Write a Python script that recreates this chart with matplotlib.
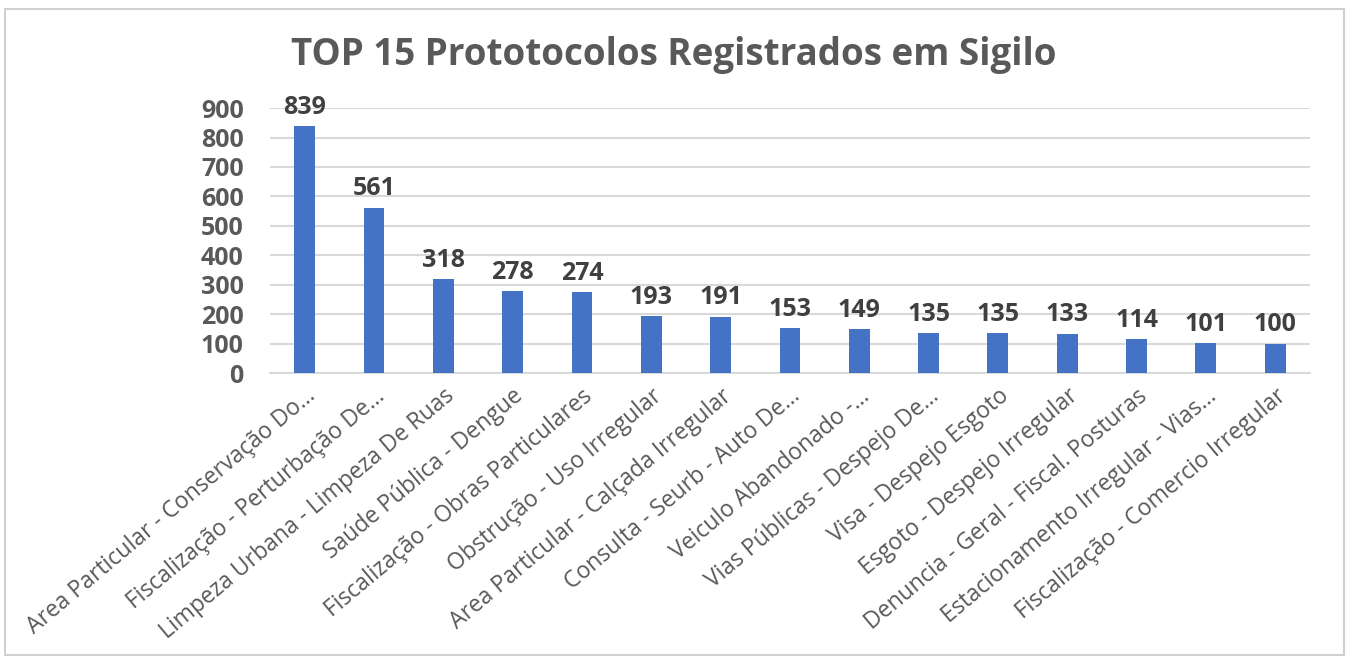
import matplotlib.pyplot as plt
from matplotlib.patches import Rectangle

categories = [
    "Area Particular - Conservação Do...",
    "Fiscalização - Perturbação De...",
    "Limpeza Urbana - Limpeza De Ruas",
    "Saúde Pública - Dengue",
    "Fiscalização - Obras Particulares",
    "Obstrução - Uso Irregular",
    "Area Particular - Calçada Irregular",
    "Consulta - Seurb - Auto De...",
    "Veiculo Abandonado -...",
    "Vias Públicas - Despejo De...",
    "Visa - Despejo Esgoto",
    "Esgoto - Despejo Irregular",
    "Denuncia - Geral - Fiscal. Posturas",
    "Estacionamento Irregular - Vias...",
    "Fiscalização - Comercio Irregular",
]
values = [839, 561, 318, 278, 274, 193, 191, 153, 149, 135, 135, 133, 114, 101, 100]
yticks = [0, 100, 200, 300, 400, 500, 600, 700, 800, 900]

plt.rcParams['font.family'] = ['Open Sans', 'DejaVu Sans']
gray = '#595959'

fig = plt.figure(figsize=(13.49, 6.65), dpi=100)
ax = fig.add_axes([0.2001, 0.439, 0.7709, 0.3985])

x = range(len(values))
bars = ax.bar(x, values, width=0.3, color='#4472C4', zorder=3)
for xi, v in zip(x, values):
    ax.text(xi, v + 22, str(v), ha='center', va='bottom', fontsize=18,
            fontweight='bold', color='#404040')

ax.set_xlim(-0.5, len(values) - 0.5)
ax.set_ylim(0, 900)
ax.set_yticks(yticks)
ax.set_yticklabels([str(t) for t in yticks], fontsize=18, fontweight='bold', color=gray)
ax.set_xticks(list(x))
ax.set_xticklabels(categories, rotation=40, ha='right', rotation_mode='anchor',
                   fontsize=16.5, color=gray)
ax.tick_params(axis='both', length=0)
ax.tick_params(axis='y', pad=19)
ax.tick_params(axis='x', pad=8)
ax.grid(axis='y', color='#d9d9d9', linewidth=1.5, zorder=0)
for s in ['top', 'right', 'left']:
    ax.spines[s].set_visible(False)
ax.spines['bottom'].set_color('#d9d9d9')
ax.spines['bottom'].set_linewidth(1.5)

fig.text(0.4996, 0.918, "TOP 15 Prototocolos Registrados em Sigilo", ha='center',
         va='center', fontsize=26.5, fontweight='bold', color=gray)

fig.patches.append(Rectangle((0.004, 0.015), 0.992, 0.972, transform=fig.transFigure,
                             fill=False, edgecolor='#d0d0d0', linewidth=1.5))

fig.savefig('out.png', dpi=100)
